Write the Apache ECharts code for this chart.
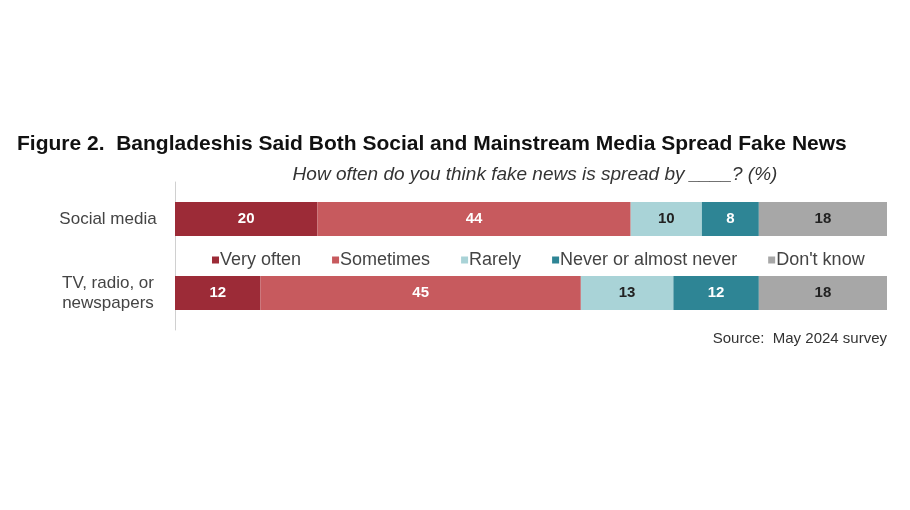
<!DOCTYPE html>
<html><head><meta charset="utf-8">
<script src="https://cdn.jsdelivr.net/npm/echarts@6/dist/echarts.min.js"></script>
<style>html,body{margin:0;padding:0;background:#fff}#c{width:910px;height:510px}</style>
</head><body><div id="c"></div>
<script>
const categories = ['Social media', 'TV, radio, or\nnewspapers'];
const seriesNames = ['Very often', 'Sometimes', 'Rarely', 'Never or almost never', "Don't know"];
const veryOften = [20, 12];
const sometimes = [44, 45];
const rarely = [10, 13];
const never = [8, 12];
const dontKnow = [18, 18];
const colors = ['#9c2b37', '#c75a5e', '#a9d3d7', '#2e8595', '#a7a7a7'];
const labelColors = ['#fff', '#fff', '#222', '#fff', '#222'];
const values = [veryOften, sometimes, rarely, never, dontKnow];
const FF = 'Liberation Sans, Arial, sans-serif';

const chart = echarts.init(document.getElementById('c'));
chart.setOption({
  animation: false,
  title: [
    { text: 'Figure 2.  Bangladeshis Said Both Social and Mainstream Media Spread Fake News',
      left: 12, top: 129, textStyle: { fontFamily: FF, fontWeight: 'bold', fontSize: 21, color: '#111' } },
    { text: 'How often do you think fake news is spread by ____? (%)',
      left: 530, textAlign: 'center', top: 160, textStyle: { fontFamily: FF, fontStyle: 'italic', fontWeight: 'normal', fontSize: 19, color: '#333' } },
    { text: 'Source:  May 2024 survey', right: 18, top: 326,
      textStyle: { fontFamily: FF, fontWeight: 'normal', fontSize: 15, color: '#333' } }
  ],
  legend: {
    data: seriesNames, left: 207, top: 246, itemWidth: 7, itemHeight: 7, itemGap: 31, icon: 'rect',
    textStyle: { fontFamily: FF, fontSize: 18, color: '#444', padding: [0,0,0,-4] }
  },
  grid: { left: 175, right: 23, top: 182, bottom: 180, containLabel: false },
  xAxis: { type: 'value', min: 0, max: 100, show: false },
  yAxis: {
    type: 'category', data: categories, inverse: true,
    axisLine: { show: true, lineStyle: { color: '#d0d0d0', width: 1 } },
    axisTick: { show: false },
    axisLabel: { fontFamily: FF, fontSize: 17, color: '#444', margin: 67, align: 'center', lineHeight: 20 }
  },
  series: seriesNames.map((n, i) => ({
    name: n, type: 'bar', stack: 'a', data: values[i], barWidth: 34,
    itemStyle: { color: colors[i] },
    label: { show: true, position: 'inside', color: labelColors[i], fontFamily: FF, fontWeight: 'bold', fontSize: 15 }
  }))
});
</script></body></html>
